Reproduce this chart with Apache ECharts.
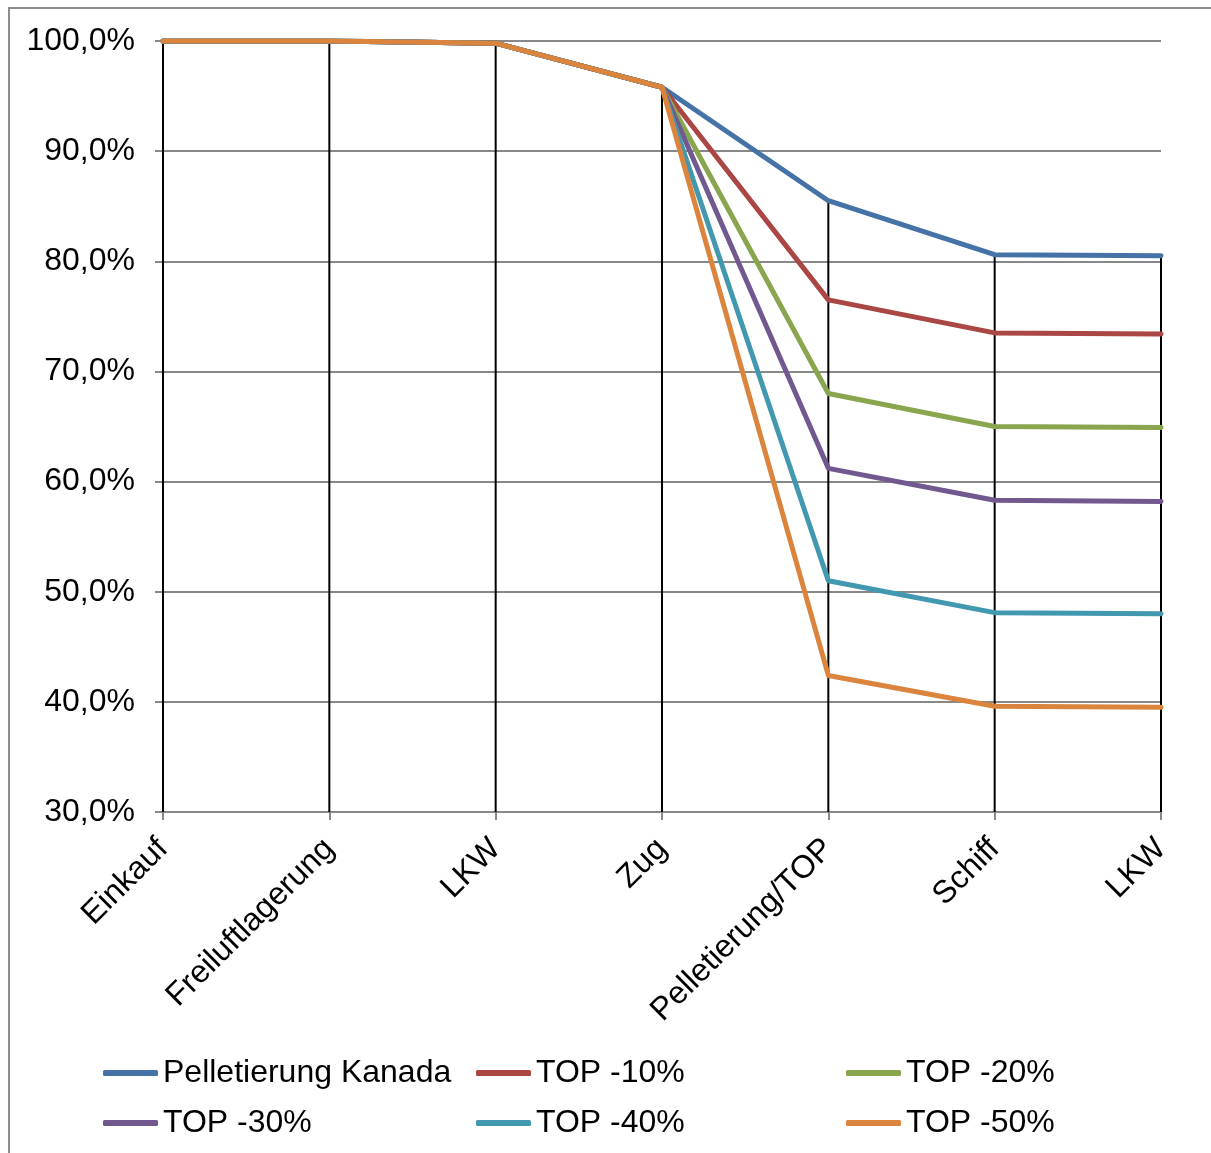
<!DOCTYPE html>
<html>
<head>
<meta charset="utf-8">
<script src="https://cdn.jsdelivr.net/npm/echarts@6/dist/echarts.min.js"></script>
<style>
  html, body { margin: 0; padding: 0; background: #fff; }
  #chart { width: 1211px; height: 1153px; }
</style>
</head>
<body>
<div id="chart"></div>
<script>
// Process steps along the supply chain
const categories = ['Einkauf', 'Freiluftlagerung', 'LKW', 'Zug', 'Pelletierung/TOP', 'Schiff', 'LKW'];

// Remaining share (%) after each step
const kanada = [100, 100, 99.8, 95.8, 85.5, 80.6, 80.5];
const top10  = [100, 100, 99.8, 95.8, 76.5, 73.5, 73.4];
const top20  = [100, 100, 99.8, 95.8, 68.0, 65.0, 64.9];
const top30  = [100, 100, 99.8, 95.8, 61.2, 58.3, 58.2];
const top40  = [100, 100, 99.8, 95.8, 51.0, 48.1, 48.0];
const top50  = [100, 100, 99.8, 95.8, 42.4, 39.6, 39.5];

const seriesNames = ['Pelletierung Kanada', 'TOP -10%', 'TOP -20%', 'TOP -30%', 'TOP -40%', 'TOP -50%'];
const seriesValues = [kanada, top10, top20, top30, top40, top50];
const colors = ['#4572A7', '#AA4643', '#89A54E', '#71588F', '#4198AF', '#DB843D'];

// Value axis ticks
const yTicks = [30, 40, 50, 60, 70, 80, 90, 100];
const yMin = yTicks[0], yMax = yTicks[yTicks.length - 1], yStep = yTicks[1] - yTicks[0];

const FONT = '"Liberation Sans", Arial, sans-serif';

// Drop lines: from the highest series value down to the category axis
const dropData = categories.map((c, i) => [i, Math.max(...seriesValues.map(s => s[i]))]);

const chart = echarts.init(document.getElementById('chart'), null, { renderer: 'canvas' });

const lineSeries = seriesNames.map((name, k) => ({
  name: name,
  type: 'line',
  data: seriesValues[k],
  symbol: 'none',
  z: 3,
  lineStyle: { width: 5, color: colors[k], cap: 'round', join: 'round' },
  itemStyle: { color: colors[k] }
}));

const legendCol = (left, names) => ({
  orient: 'vertical',
  left: left,
  top: 1050,
  itemGap: 14,
  itemWidth: 55,
  itemHeight: 6,
  icon: 'roundRect',
  data: names,
  textStyle: { fontFamily: FONT, fontSize: 32, color: '#000', lineHeight: 36 }
});

chart.setOption({
  animation: false,
  backgroundColor: '#fff',
  color: colors,
  graphic: [{
    type: 'rect',
    shape: { x: 9, y: 8, width: 1300, height: 1300 },
    style: { fill: 'none', stroke: '#8c8c8c', lineWidth: 2 },
    silent: true,
    z: -10
  }],
  grid: { left: 163, right: 50, top: 41, bottom: 341, containLabel: false },
  legend: [
    legendCol(98, [seriesNames[0], seriesNames[3]]),
    legendCol(471, [seriesNames[1], seriesNames[4]]),
    legendCol(841, [seriesNames[2], seriesNames[5]])
  ],
  xAxis: {
    type: 'category',
    data: categories,
    boundaryGap: false,
    axisLine: { lineStyle: { color: '#888', width: 2 } },
    axisTick: { show: true, length: 8, inside: false, lineStyle: { color: '#888', width: 2 } },
    axisLabel: {
      rotate: 45, margin: 32, interval: 0,
      fontFamily: FONT, fontSize: 32, color: '#000'
    },
    splitLine: { show: false }
  },
  yAxis: {
    type: 'value',
    min: yMin, max: yMax, interval: yStep,
    axisLine: { show: true, lineStyle: { color: '#888', width: 2 } },
    axisTick: { show: true, length: 8, lineStyle: { color: '#888', width: 2 } },
    axisLabel: {
      margin: 28,
      fontFamily: FONT, fontSize: 32, color: '#000',
      formatter: v => v.toFixed(1).replace('.', ',') + '%'
    },
    splitLine: { show: true, lineStyle: { color: '#888', width: 2 } }
  },
  series: [{
    name: 'drop',
    type: 'custom',
    data: dropData,
    z: 2,
    silent: true,
    renderItem: (params, api) => {
      const top = api.coord([api.value(0), api.value(1)]);
      const bottom = api.coord([api.value(0), yMin]);
      return {
        type: 'line',
        shape: { x1: top[0], y1: top[1], x2: bottom[0], y2: bottom[1] },
        style: { stroke: '#000', lineWidth: 2 }
      };
    }
  }].concat(lineSeries)
});
</script>
</body>
</html>
